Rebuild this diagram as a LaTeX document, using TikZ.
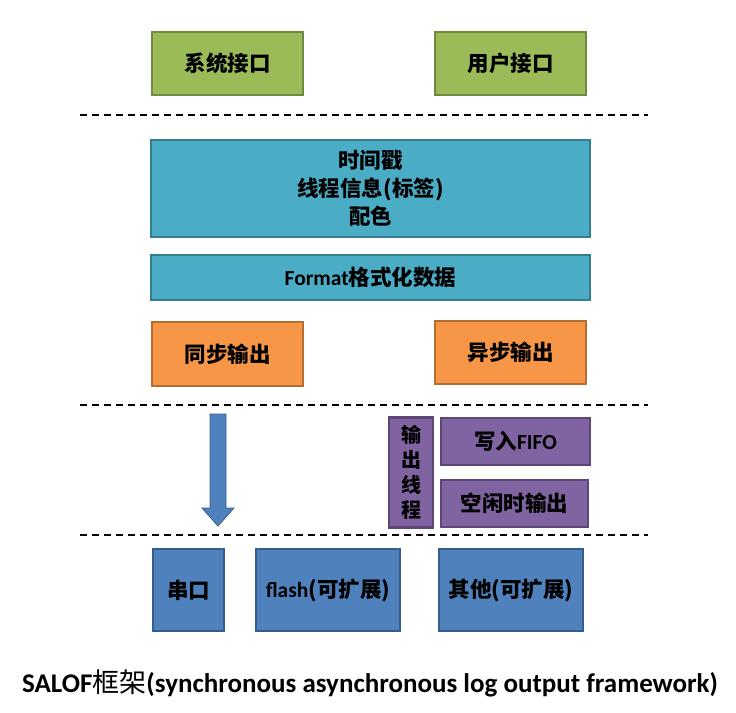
\documentclass[tikz,border=0pt]{standalone}
\usepackage{fontspec}
\setmainfont{Carlito}
\newfontfamily\cjk{Noto Sans CJK SC}
\begin{document}
\begin{tikzpicture}[x=1pt,y=-1pt,
  base/.style={draw, line width=2.2pt, inner sep=0pt, align=center, font=\fontsize{21.5}{28}\selectfont\bfseries},
  gbox/.style={base, fill=gfill, draw=gline},
  cbox/.style={base, fill=cfill, draw=cline},
  obox/.style={base, fill=ofill, draw=oline},
  pbox/.style={base, fill=pfill, draw=pline},
  bbox/.style={base, fill=bfill, draw=bline},
  sep/.style={dashed, line width=1.2pt, dash pattern=on 7pt off 5pt},
  bigarrow/.style={fill=bfill, draw=bline, line width=0.8pt}
]
\definecolor{gfill}{HTML}{9BBB59}\definecolor{gline}{HTML}{71893F}
\definecolor{cfill}{HTML}{4BACC6}\definecolor{cline}{HTML}{357D91}
\definecolor{ofill}{HTML}{F79646}\definecolor{oline}{HTML}{B66D31}
\definecolor{pfill}{HTML}{8064A2}\definecolor{pline}{HTML}{5C4776}
\definecolor{bfill}{HTML}{4F81BD}\definecolor{bline}{HTML}{385D8A}
\useasboundingbox (0,0) rectangle (736,712);

\node[gbox, minimum width=151pt, minimum height=63pt] (sys) at (227.5,63.5) {\cjk 系统接口};
\node[gbox, minimum width=151pt, minimum height=63pt] (usr) at (510.5,63.5) {\cjk 用户接口};

\coordinate (d1l) at (80,115); \coordinate (d1r) at (648,115);
\draw[sep] (d1l) -- (d1r);

\node[cbox, minimum width=439pt, minimum height=97pt] (meta) at (370.5,188.5)
  {\cjk 时间戳\\\cjk 线程信息(标签)\\\cjk 配色};
\node[cbox, minimum width=439pt, minimum height=45pt] (fmt) at (370.5,277.5)
  {Format{\cjk 格式化数据}};

\node[obox, minimum width=151pt, minimum height=64pt] (sync) at (227.5,354) {\cjk 同步输出};
\node[obox, minimum width=151pt, minimum height=63pt] (async) at (510.5,352.5) {\cjk 异步输出};

\coordinate (d2l) at (80,405); \coordinate (d2r) at (648,405);
\draw[sep] (d2l) -- (d2r);

\draw[bigarrow] (210,414) -- (226,414) -- (226,508) -- (234,508) -- (218,526) -- (202,508) -- (210,508) -- cycle;

\node[pbox, minimum width=44pt, minimum height=110pt, font=\fontsize{20}{25}\selectfont\bfseries] (thr) at (411,472.5)
  {\cjk 输\\\cjk 出\\\cjk 线\\\cjk 程};
\node[pbox, minimum width=149pt, minimum height=47pt] (fifo) at (515.5,441.5) {{\cjk 写入}FIFO};
\node[pbox, minimum width=147pt, minimum height=47pt] (idle) at (514.5,503.5) {\cjk 空闲时输出};

\coordinate (d3l) at (80,535); \coordinate (d3r) at (648,535);
\draw[sep] (d3l) -- (d3r);

\node[bbox, minimum width=71pt, minimum height=82pt] (uart) at (188.5,590) {\cjk 串口};
\node[bbox, minimum width=144pt, minimum height=82pt] (flash) at (328,590) {\textbf{flash}{\cjk (可扩展)}};
\node[bbox, minimum width=144pt, minimum height=82pt] (other) at (511,590) {\cjk 其他(可扩展)};

\node[font=\fontsize{27}{32}\selectfont\bfseries, inner sep=0pt] (title) at (370,683)
  {SALOF{\cjk\mdseries 框架}(synchronous asynchronous log output framework)};
\end{tikzpicture}
\end{document}
